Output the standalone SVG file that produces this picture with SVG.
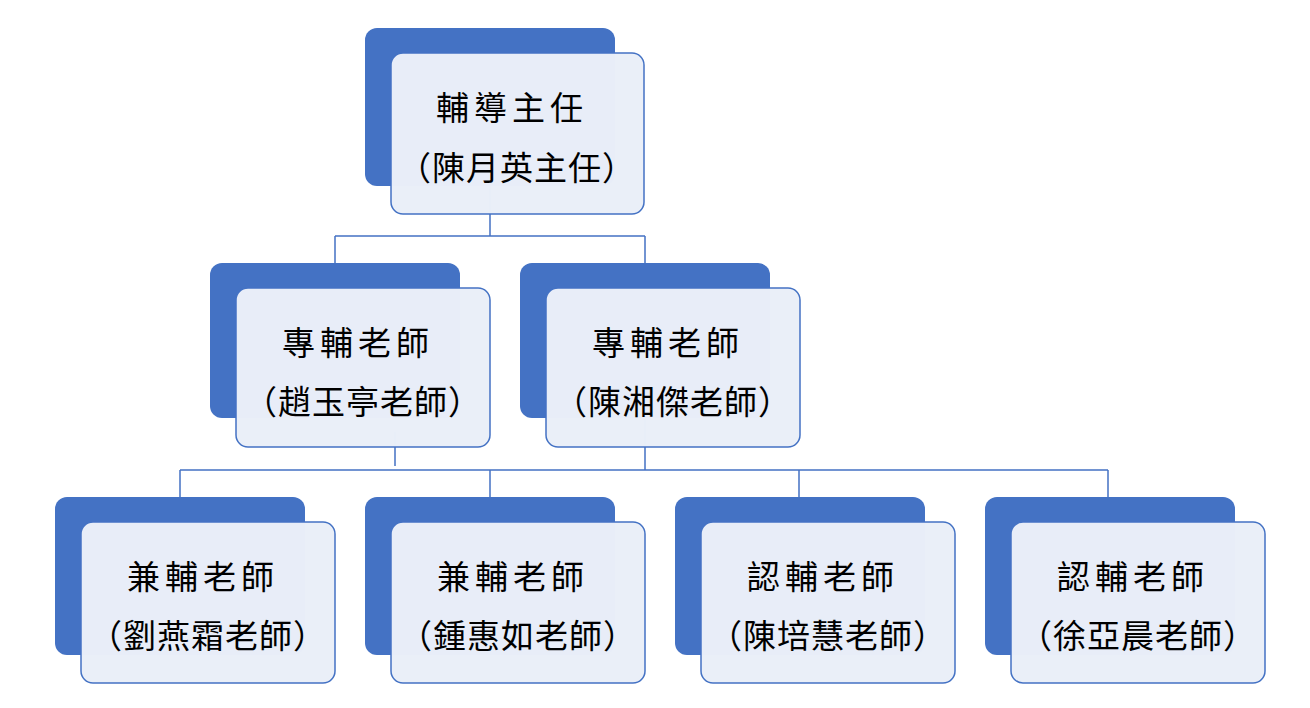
<svg xmlns="http://www.w3.org/2000/svg" width="1310" height="708" viewBox="0 0 1310 708">
<style>
.b{fill:#4472c4}
.f{fill:#eaeff8;fill-opacity:0.99;stroke:#4472c4;stroke-width:1.5}
.c{stroke:#4472c4;stroke-width:1.5;fill:none}
text{font-family:"Noto Sans CJK TC","Noto Sans CJK JP",sans-serif;font-size:33px;fill:#000;text-anchor:middle}
.t{letter-spacing:5px}
.p{letter-spacing:1px}
</style>
<rect width="1310" height="708" fill="#fff"/>
<g id="connectors">
<path class="c" d="M490 186V236M335 236H645M335 236V263M645 236V263"/>
<path class="c" d="M645 418V470M395 432V466M180 470H1108M180 470V497M490 470V497M799 470V497M1108 470V497"/>
</g>
<g id="n0"><rect class="b" x="365" y="28" width="250" height="158" rx="12"/><rect class="f" x="391" y="53" width="253" height="161" rx="12"/><text class="t" x="512" y="120">輔導主任</text><text class="p" x="517" y="180">（陳月英主任）</text></g>
<g id="n1"><rect class="b" x="210" y="263" width="250" height="155" rx="12"/><rect class="f" x="236" y="288" width="254" height="159" rx="12"/><text class="t" x="358" y="355">專輔老師</text><text class="p" x="363" y="414">（趙玉亭老師）</text></g>
<g id="n2"><rect class="b" x="520" y="263" width="250" height="155" rx="12"/><rect class="f" x="546" y="288" width="254" height="159" rx="12"/><text class="t" x="668" y="355">專輔老師</text><text class="p" x="673" y="414">（陳湘傑老師）</text></g>
<g id="n3"><rect class="b" x="55" y="497" width="250" height="158" rx="12"/><rect class="f" x="81" y="522" width="254" height="161" rx="12"/><text class="t" x="203" y="589">兼輔老師</text><text class="p" x="208" y="648">（劉燕霜老師）</text></g>
<g id="n4"><rect class="b" x="365" y="497" width="250" height="158" rx="12"/><rect class="f" x="391" y="522" width="254" height="161" rx="12"/><text class="t" x="513" y="589">兼輔老師</text><text class="p" x="518" y="648">（鍾惠如老師）</text></g>
<g id="n5"><rect class="b" x="675" y="497" width="250" height="158" rx="12"/><rect class="f" x="701" y="522" width="254" height="161" rx="12"/><text class="t" x="823" y="589">認輔老師</text><text class="p" x="828" y="648">（陳培慧老師）</text></g>
<g id="n6"><rect class="b" x="985" y="497" width="250" height="158" rx="12"/><rect class="f" x="1011" y="522" width="254" height="161" rx="12"/><text class="t" x="1133" y="589">認輔老師</text><text class="p" x="1138" y="648">（徐亞晨老師）</text></g>
</svg>
